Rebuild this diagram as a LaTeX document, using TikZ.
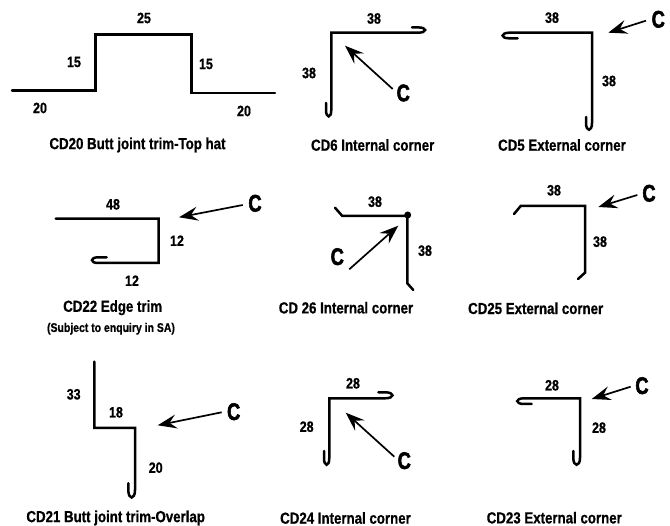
\documentclass[tikz,border=0pt]{standalone}
\usepackage{fontspec}
\setmainfont[FakeStretch=0.83,BoldFeatures={FakeBold=0.7}]{Liberation Sans}
\newfontfamily\letterfont[FakeStretch=0.76,BoldFeatures={FakeBold=2.2}]{Liberation Sans}
\usetikzlibrary{arrows.meta}
\tikzset{
  trim/.style={line width=2.5pt,line join=miter,line cap=round},
  carrow/.style={line width=1.7pt,-{Stealth[length=19pt,width=14pt,inset=7pt]}},
  dimtext/.style={inner sep=0pt,font=\fontsize{15}{16}\selectfont\bfseries},
  captext/.style={inner sep=0pt,font=\fontsize{16}{17}\selectfont\bfseries},
  subtext/.style={inner sep=0pt,font=\fontsize{12.6}{14}\selectfont\bfseries},
  cletter/.style={inner sep=0pt,font=\fontsize{24}{25}\selectfont\letterfont\bfseries},
  blob/.style={circle,fill=black,inner sep=0pt,minimum size=7pt}
}
\begin{document}
\begin{tikzpicture}[x=1pt,y=-1pt]
\useasboundingbox (0,0) rectangle (670,526);
% CD20
\draw[trim] (12,90.5) -- (95.5,90.5) -- (95.5,34.5) -- (191.5,34.5) -- (191.5,93) -- (275,93);
\node[dimtext] (a1) at (144,18) {25};
\node[dimtext] (a2) at (74,62) {15};
\node[dimtext] (a3) at (206,64) {15};
\node[dimtext] (a4) at (40,108) {20};
\node[dimtext] (a5) at (244,111) {20};
\node[captext] (a6) at (137.5,145) {CD20 Butt joint trim-Top hat};
% CD6
\draw[trim] (326,103) -- (326,110) .. controls (326,118.5) and (331.3,118.5) .. (331.3,110) -- (331.3,32.7) -- (418,32.7) .. controls (427.5,32.7) and (427.5,27.4) .. (418,27.4) -- (412,27.4);
\node[dimtext] (b1) at (374,18.5) {38};
\node[dimtext] (b2) at (309,73) {38};
\node[cletter] (b3) at (403.3,93) {C};
\coordinate (b4) at (392.7,89);
\coordinate (b5) at (345,45.7);
\draw[carrow] (b4) -- (b5);
\node[captext] (b6) at (372.7,145) {CD6 Internal corner};
% CD5
\draw[trim] (586,117) -- (586,123) .. controls (586,132) and (592,132) .. (592,123) -- (592,32.7) -- (509,32.7) .. controls (500.5,33) and (500.5,38.3) .. (509,38.3) -- (517.7,38.3);
\node[dimtext] (c1) at (552,17.7) {38};
\node[dimtext] (c2) at (609,81) {38};
\node[cletter] (c3) at (658.3,19.3) {C};
\coordinate (c4) at (646,20.7);
\coordinate (c5) at (608.3,32.7);
\draw[carrow] (c4) -- (c5);
\node[captext] (c6) at (562,145) {CD5 External corner};
% CD22
\draw[trim] (55.7,218.7) -- (158.7,218.7) -- (158.7,263) -- (98,263) .. controls (90,263) and (90,257.3) .. (98,257.3) -- (106.7,257.3);
\node[dimtext] (d1) at (113,204.3) {48};
\node[dimtext] (d2) at (177,240.7) {12};
\node[dimtext] (d3) at (132,280.7) {12};
\node[cletter] (d4) at (255,203.3) {C};
\coordinate (d5) at (242.7,205);
\coordinate (d6) at (179,217.3);
\draw[carrow] (d5) -- (d6);
\node[captext] (d7) at (112.7,307.7) {CD22 Edge trim};
\node[subtext] (d8) at (111,328.7) {(Subject to enquiry in SA)};
% CD26
\draw[trim] (335,207.7) -- (342.3,216) -- (407.3,216) -- (407.3,283.3) -- (413.3,290);
\node[blob] (e0) at (407.7,215) {};
\node[dimtext] (e1) at (375,201.7) {38};
\node[dimtext] (e2) at (425,250.7) {38};
\node[cletter] (e3) at (337.3,256.7) {C};
\coordinate (e4) at (349.3,269.3);
\coordinate (e5) at (398.3,225.7);
\draw[carrow] (e4) -- (e5);
\node[captext] (e6) at (346,307.7) {CD 26 Internal corner};
% CD25
\draw[trim] (514,214) -- (520.7,206) -- (585,206) -- (585,272.7) -- (578,279);
\node[dimtext] (f1) at (554,190.3) {38};
\node[dimtext] (f2) at (600,241.7) {38};
\node[cletter] (f3) at (649,193.3) {C};
\coordinate (f4) at (637.3,195);
\coordinate (f5) at (598.3,207);
\draw[carrow] (f4) -- (f5);
\node[captext] (f6) at (535.7,308.3) {CD25 External corner};
% CD21
\draw[trim] (94.3,361.7) -- (94.3,428) -- (135,428) -- (135,490) .. controls (135,500) and (128.3,500) .. (128.3,490) -- (128.3,483.3);
\node[dimtext] (g1) at (73.7,394.3) {33};
\node[dimtext] (g2) at (116,412.3) {18};
\node[dimtext] (g3) at (155.7,467.7) {20};
\node[cletter] (g4) at (233.7,411.7) {C};
\coordinate (g5) at (221.7,412.3);
\coordinate (g6) at (157.7,425.3);
\draw[carrow] (g5) -- (g6);
\node[captext] (g7) at (115.7,518) {CD21 Butt joint trim-Overlap};
% CD24
\draw[trim] (324,451) -- (324,458) .. controls (324,467) and (329.3,467) .. (329.3,458) -- (329.3,398.3) -- (385,398.3) .. controls (395,398.3) and (395,392.3) .. (385,392.3) -- (378.3,392.3);
\node[dimtext] (h1) at (353,383.3) {28};
\node[dimtext] (h2) at (306.7,426.7) {28};
\node[cletter] (h3) at (404.3,460.7) {C};
\coordinate (h4) at (394.3,456.7);
\coordinate (h5) at (345.7,412.7);
\draw[carrow] (h4) -- (h5);
\node[captext] (h6) at (345.5,518) {CD24 Internal corner};
% CD23
\draw[trim] (573.3,451) -- (573.3,458) .. controls (573.3,467) and (580,467) .. (580,458) -- (580,398.3) -- (524,398.3) .. controls (515,398.3) and (515,404) .. (524,404) -- (531.7,404);
\node[dimtext] (i1) at (552,385.3) {28};
\node[dimtext] (i2) at (599,427.7) {28};
\node[cletter] (i3) at (642,385.7) {C};
\coordinate (i4) at (630.7,386.7);
\coordinate (i5) at (591.7,399);
\draw[carrow] (i4) -- (i5);
\node[captext] (i6) at (554.3,517.7) {CD23 External corner};
\end{tikzpicture}
\end{document}
